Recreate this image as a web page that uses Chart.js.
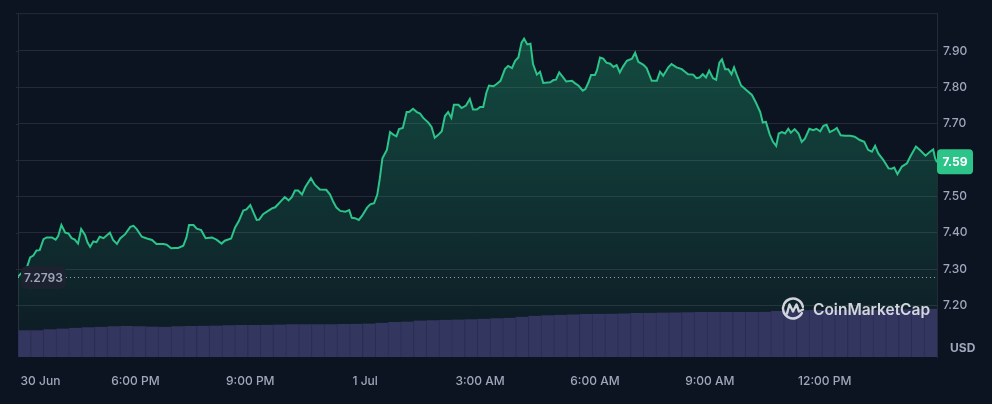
<!DOCTYPE html>
<html>
<head>
<meta charset="utf-8">
<script src="https://cdn.jsdelivr.net/npm/chart.js@4.4.1/dist/chart.umd.min.js"></script>
<style>
  html, body { margin: 0; padding: 0; background: #0d1421; }
</style>
</head>
<body>
<canvas id="chart" width="992" height="404"></canvas>
<script>
// minutes since 30 Jun 00:00
const times = [
  896,910,915,920,925,930,936,941,949,955,959,964,970,975,980,985,990,995,1001,1005,
  1009,1014,1019,1024,1030,1040,1045,1051,1056,1064,1072,1077,1082,1090,1098,1106,1113,1124,1129,1136,
  1142,1147,1155,1160,1164,1171,1176,1183,1190,1200,1207,1215,1220,1230,1236,1242,1249,1254,1260,
  1265,1270,1274,1280,1288,1294,1299,1307,1314,1320,1325,1330,1335,1341,1346,1355,1361,1369,1379,1385,
  1390,1395,1401,1409,1415,1419,1424,1430,1435,1443,1448,1454,1459,1463,1467,1474,1479,1484,1489,1493,
  1499,1505,1509,1515,1521,1526,1531,1539,1544,1549,1555,1560,1565,1570,1575,1579,1586,1591,1598,1604,
  1609,1615,1620,1625,1630,1634,
  1641,1646,1652,1659,1664,1670,1675,1680,1685,1689,1694,1699,1703,1709,1714,1719,1730,1735,1739,1744,
  1749,1755,1764,1769,1774,1781,1785,1790,1794,1800,1803,1808,1813,1818,1824,1829,1834,1839,1844,1850,
  1858,1863,1868,1876,1881,1889,1897,1902,1907,1915,1920,1928,1936,1941,1946,1954,1959,1964,1969,1974,
  1979,1985,1990,
  1995,1999,2004,2009,2014,2018,2022,2029,2038,2046,2052,2059,2063,2068,2074,2079,2084,2088,2093,2098,
  2103,2107,2113,2119,2124,2129,2136,2142,2147,2153,2158,2163,2168,2174,2179,2185,2192,2200,2207,2215,
  2222,2228,2234,2239,2244,2252,2260,2265,2269,2274,2281,2289,2294,2303,2310,2318,2325,2330,2333,2336
];

const prices = [
  7.2793,7.305,7.332,7.337,7.351,7.352,7.382,7.387,7.387,7.381,7.391,7.421,7.400,7.398,7.385,7.381,7.370,7.410,7.394,7.373,
  7.361,7.376,7.374,7.389,7.385,7.400,7.380,7.369,7.384,7.396,7.416,7.419,7.410,7.389,7.384,7.380,7.369,7.369,7.367,7.357,
  7.358,7.358,7.364,7.387,7.421,7.421,7.411,7.407,7.385,7.387,7.381,7.370,7.378,7.384,7.414,7.432,7.461,7.464,7.476,
  7.455,7.435,7.436,7.451,7.460,7.467,7.470,7.485,7.498,7.489,7.498,7.516,7.516,7.505,7.525,7.550,7.532,7.519,7.518,7.505,
  7.485,7.469,7.460,7.458,7.462,7.441,7.440,7.435,7.446,7.469,7.478,7.481,7.505,7.550,7.605,7.628,7.677,7.670,7.665,7.685,
  7.688,7.732,7.732,7.741,7.732,7.728,7.716,7.703,7.691,7.661,7.670,7.679,7.721,7.732,7.716,7.752,7.752,7.743,7.750,7.768,
  7.739,7.739,7.746,7.746,7.786,7.805,
  7.803,7.809,7.818,7.850,7.859,7.853,7.873,7.882,7.923,7.934,7.918,7.920,7.864,7.835,7.843,7.812,7.814,7.820,7.821,7.841,
  7.830,7.816,7.818,7.811,7.805,7.791,7.795,7.814,7.834,7.834,7.846,7.882,7.879,7.868,7.865,7.856,7.861,7.841,7.857,7.873,
  7.879,7.895,7.870,7.862,7.853,7.818,7.818,7.843,7.832,7.855,7.864,7.855,7.850,7.843,7.836,7.835,7.825,7.827,7.836,7.827,
  7.846,7.825,7.821,
  7.868,7.877,7.850,7.850,7.836,7.855,7.836,7.805,7.791,7.779,7.759,7.732,7.703,7.705,7.670,7.650,7.639,7.673,7.677,7.673,
  7.686,7.675,7.685,7.673,7.650,7.659,7.686,7.682,7.686,7.679,7.694,7.697,7.677,7.682,7.688,7.668,7.667,7.667,7.664,7.655,
  7.650,7.628,7.623,7.639,7.618,7.600,7.577,7.576,7.579,7.561,7.582,7.591,7.609,7.637,7.626,7.612,7.623,7.629,7.605,7.594
];

// 24h volume, one bar per 20 minutes (USD, millions)
const volumes = [
  40.5,40.5,42.0,43.1,44.3,45.0,45.8,46.5,47.0,46.5,46.2,45.8,46.5,47.0,47.3,47.7,48.0,48.3,48.5,48.8,
  49.1,49.5,49.5,49.5,49.5,49.8,50.3,50.7,51.8,53.0,53.7,55.2,55.8,56.3,56.7,57.3,57.9,58.5,59.3,60.8,
  62.3,63.3,63.9,64.5,65.0,65.3,65.6,66.0,66.5,66.9,67.2,67.5,67.8,68.0,68.1,68.1,68.3,68.3,68.4,69.8,
  70.5,70.8,71.0,71.1,71.3,71.4,71.6,71.6,72.0,72.3,72.8,73.1
];

const xTickTimes = [900, 1080, 1260, 1440, 1620, 1800, 1980, 2160];
const xTickLabels = ['30 Jun', '6:00 PM', '9:00 PM', '1 Jul', '3:00 AM', '6:00 AM', '9:00 AM', '12:00 PM'];
const yTicks = [7.2, 7.3, 7.4, 7.5, 7.6, 7.7, 7.8, 7.9];

const green = '#2cc489';
const gridColor = '#262a37';
const textColor = '#a1a7bb';
const volLabels = volumes.map((v, i) => 'v' + i);

const overlay = {
  id: 'overlay',
  beforeDatasetsDraw(chart) {
    const { ctx, chartArea: a, scales: { y } } = chart;
    ctx.save();
    ctx.strokeStyle = gridColor;
    ctx.lineWidth = 1;
    ctx.beginPath();
    ctx.moveTo(a.left + 0.5, a.top);
    ctx.lineTo(a.left + 0.5, a.bottom);
    ctx.moveTo(a.left - 2, a.top + 0.5);
    ctx.lineTo(a.right, a.top + 0.5);
    yTicks.forEach(v => {
      const py = Math.round(y.getPixelForValue(v)) + 0.5;
      ctx.moveTo(a.left - 2, py);
      ctx.lineTo(a.left, py);
    });
    ctx.stroke();
    ctx.restore();
  },
  afterDraw(chart) {
    const { ctx, chartArea: a, scales: { y } } = chart;
    ctx.save();

    // opening price dotted line + label
    const oy = Math.round(y.getPixelForValue(prices[0])) + 0.5;
    ctx.strokeStyle = 'rgba(200,204,214,0.75)';
    ctx.setLineDash([1, 3]);
    ctx.beginPath();
    ctx.moveTo(a.left, oy);
    ctx.lineTo(a.right, oy);
    ctx.stroke();
    ctx.setLineDash([]);
    ctx.fillStyle = '#1d2230';
    ctx.beginPath();
    ctx.roundRect(a.left + 3, oy - 11.5, 45, 23, 6);
    ctx.fill();
    ctx.fillStyle = textColor;
    ctx.font = '600 12px Inter';
    ctx.textAlign = 'center';
    ctx.textBaseline = 'middle';
    ctx.fillText(prices[0].toFixed(4), a.left + 25.5, oy + 0.5);

    // current price tag
    const last = prices[prices.length - 1];
    const ly = y.getPixelForValue(last);
    ctx.fillStyle = green;
    ctx.beginPath();
    ctx.roundRect(a.right, ly - 13, 36, 25, 4);
    ctx.fill();
    ctx.fillStyle = '#ffffff';
    ctx.font = '700 12px Inter';
    ctx.fillText(last.toFixed(2), a.right + 18, ly);

    // currency
    ctx.fillStyle = textColor;
    ctx.font = '700 12px Inter';
    ctx.textAlign = 'left';
    ctx.fillText('USD', 950, 348);

    // watermark
    const cx = 793, cy = 308.5;
    ctx.strokeStyle = 'rgba(226,228,234,0.92)';
    ctx.lineWidth = 2.4;
    ctx.lineCap = 'round';
    ctx.lineJoin = 'round';
    ctx.beginPath();
    ctx.arc(cx, cy, 10, 0.15 * Math.PI, 1.95 * Math.PI);
    ctx.stroke();
    ctx.beginPath();
    ctx.moveTo(cx - 6, cy + 5);
    ctx.lineTo(cx - 3.5, cy - 4);
    ctx.lineTo(cx, cy + 3);
    ctx.lineTo(cx + 3.5, cy - 4);
    ctx.lineTo(cx + 6, cy + 3);
    ctx.lineTo(cx + 10, cy + 1);
    ctx.stroke();
    ctx.fillStyle = 'rgba(226,228,234,0.92)';
    ctx.font = '600 15.5px Inter';
    ctx.textBaseline = 'alphabetic';
    ctx.fillText('CoinMarketCap', 813, 315);

    ctx.restore();
  }
};

new Chart(document.getElementById('chart'), {
  type: 'line',
  data: {
    datasets: [{
      type: 'line',
      data: times.map((t, i) => ({ x: t, y: prices[i] })),
      borderColor: green,
      borderWidth: 2,
      pointRadius: 0,
      tension: 0,
      fill: 'start',
      backgroundColor: (c) => {
        const a = c.chart.chartArea;
        if (!a) return 'transparent';
        const g = c.chart.ctx.createLinearGradient(0, a.top, 0, a.bottom);
        g.addColorStop(0, 'rgba(34,196,134,0.34)');
        g.addColorStop(1, 'rgba(34,196,134,0.03)');
        return g;
      },
      order: 1
    }, {
      type: 'bar',
      data: volumes,
      xAxisID: 'xv',
      yAxisID: 'yv',
      backgroundColor: '#33365f',
      borderColor: '#2b2d55',
      borderWidth: { left: 1, right: 0, top: 0, bottom: 0 },
      borderSkipped: false,
      barThickness: 13.2,
      grouped: false,
      order: 0
    }]
  },
  options: {
    responsive: false,
    animation: false,
    layout: { padding: { left: 18, top: 10, right: 0, bottom: 0 } },
    plugins: { legend: { display: false }, tooltip: { enabled: false } },
    scales: {
      x: {
        type: 'linear',
        min: 896,
        max: 2336,
        grid: { display: false },
        border: { display: false },
        afterBuildTicks: s => { s.ticks = xTickTimes.concat([2336]).map(v => ({ value: v })); },
        afterFit: s => { s.height = 47; },
        ticks: {
          autoSkip: false,
          maxRotation: 0,
          align: 'inner',
          padding: 9,
          color: textColor,
          font: { family: 'Inter', size: 12, weight: '500' },
          callback: v => {
            const i = xTickTimes.indexOf(v);
            return i >= 0 ? xTickLabels[i] : '';
          }
        }
      },
      xv: {
        type: 'category',
        labels: volLabels,
        display: false,
        offset: true
      },
      y: {
        position: 'right',
        min: 7.058,
        max: 8.004,
        afterBuildTicks: s => { s.ticks = yTicks.map(v => ({ value: v })); },
        afterFit: s => { s.width = 55; },
        grid: { color: gridColor, drawTicks: false },
        border: { color: gridColor },
        ticks: {
          padding: 6,
          color: textColor,
          font: { family: 'Inter', size: 12, weight: '500' },
          callback: v => v.toFixed(2)
        }
      },
      yv: {
        display: false,
        min: 0,
        max: 520.5
      }
    }
  },
  plugins: [overlay]
});
</script>
</body>
</html>
